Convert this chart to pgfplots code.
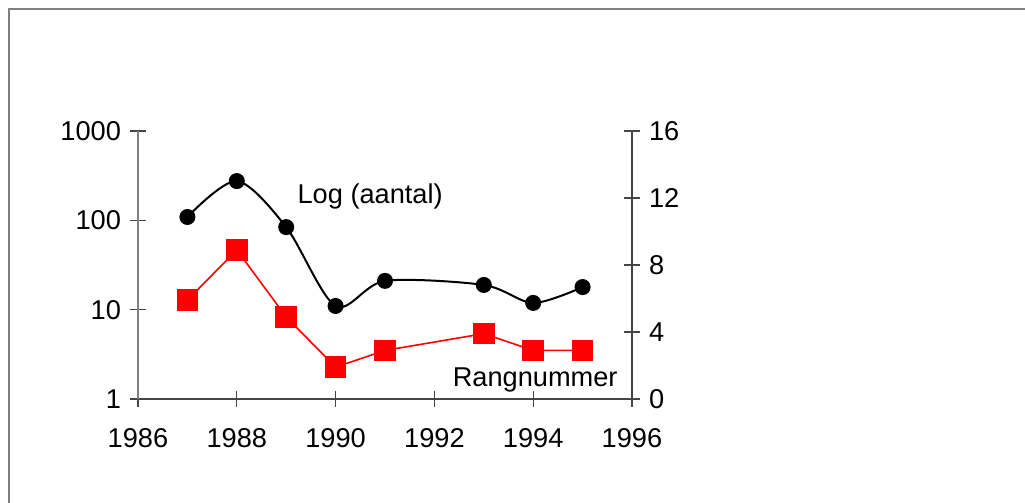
\documentclass[border=0pt]{standalone}
\usepackage{pgfplots}
\pgfplotsset{compat=1.18}
\usepackage{fontspec}
\setmainfont{Liberation Sans}

\definecolor{axgray}{RGB}{128,128,128}
\definecolor{axdark}{RGB}{70,70,70}
\definecolor{rangred}{RGB}{255,0,0}

\begin{document}
\begin{tikzpicture}[x=1pt,y=1pt]
% picture size: 1 px of the reference = 0.5pt
\useasboundingbox (0,0) rectangle (512.5,251.5);
\draw[axgray, line width=1pt] (4.5,0) -- (4.5,247) -- (512.5,247);

\pgfplotsset{
    common/.style={
        scale only axis,
        width=247pt,
        height=134pt,
        at={(69pt,52pt)},
        anchor=south west,
        xmin=1986, xmax=1996,
        tick align=center,
        major tick length=8pt,
        minor tick num=0,
        tick style={axdark, line width=0.6pt},
        axis line style={axdark, line width=0.6pt},
        tick label style={font=\fontsize{13.6}{15}\selectfont},
        /pgf/number format/assume math mode=true,
        clip=false,
    }
}

\begin{axis}[
    common,
    ymode=log,
    ymin=1, ymax=1000,
    axis x line*=bottom,
    axis y line*=left,
    y axis line style={axgray, line width=1pt},
    xtick={1986,1988,...,1996},
    xticklabel style={/pgf/number format/1000 sep={}, yshift=-7pt},
    ytick={1,10,100,1000},
    yminorticks=false,
    yticklabels={1,10,100,1000},
    yticklabel style={xshift=-1pt},
]
\addplot[black, line width=1pt, smooth, mark=*, mark size=3.5pt,
    mark options={fill=black}] coordinates {
    (1987,109) (1988,275) (1989,84) (1990,11) (1991,21)
    (1993,18.9) (1994,11.9) (1995,17.9)
};
\node[font=\fontsize{13.6}{15}\selectfont] at (rel axis cs:0.47,0.754) {Log (aantal)};
\node[font=\fontsize{13.6}{15}\selectfont] at (rel axis cs:0.804,0.071) {Rangnummer};
\end{axis}

\begin{axis}[
    common,
    ymin=0, ymax=16,
    axis x line=none,
    axis y line*=right,
    ytick={0,4,...,16},
    yticklabel style={xshift=1pt},
]
\addplot[rangred, line width=0.8pt, mark=square*, mark size=5pt,
    mark options={fill=rangred, draw=rangred}] coordinates {
    (1987,5.9) (1988,8.9) (1989,4.9) (1990,1.9) (1991,2.9)
    (1993,3.9) (1994,2.9) (1995,2.9)
};
\end{axis}
\end{tikzpicture}
\end{document}
